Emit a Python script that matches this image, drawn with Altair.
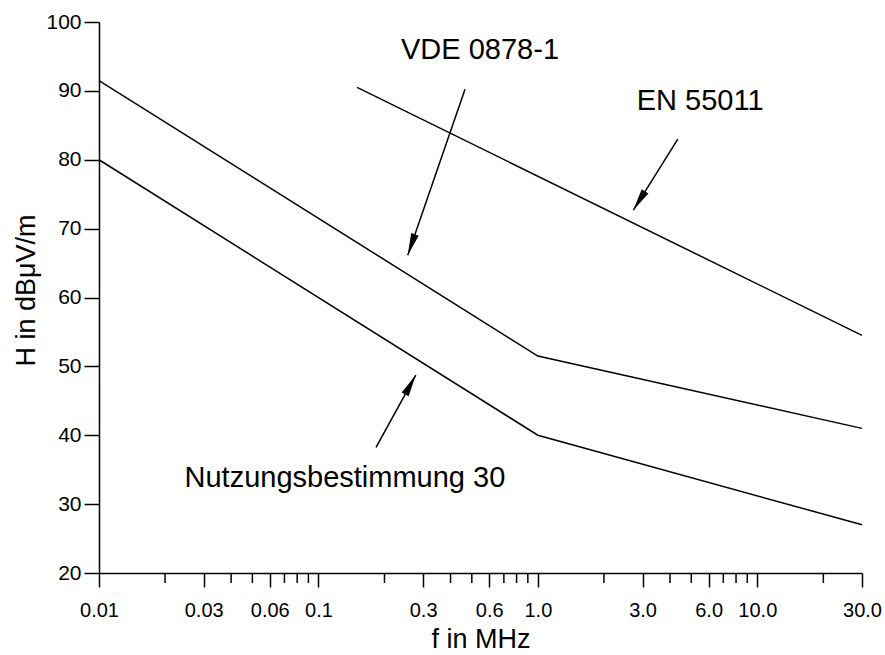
import altair as alt
import pandas as pd

# ---- data ----
nutz_f = [0.01, 1.0, 30.0]
nutz_H = [80.0, 40.0, 27.0]
vde_f = [0.01, 1.0, 30.0]
vde_H = [91.5, 51.5, 41.0]
en_f = [0.15, 30.0]
en_H = [90.5, 54.5]

major_ticks = [0.01, 0.03, 0.06, 0.1, 0.3, 0.6, 1.0, 3.0, 6.0, 10.0, 30.0]
major_labels = ["0.01", "0.03", "0.06", "0.1", "0.3", "0.6", "1.0", "3.0", "6.0", "10.0", "30.0"]
minor_ticks = [0.02, 0.04, 0.05, 0.07, 0.08, 0.09, 0.2, 0.4, 0.5, 0.7, 0.8, 0.9,
               2.0, 4.0, 5.0, 7.0, 8.0, 9.0, 20.0]
y_ticks = [20, 30, 40, 50, 60, 70, 80, 90, 100]

label_text = ["VDE 0878-1", "EN 55011", "Nutzungsbestimmung 30"]
label_f = [0.545, 5.49, 0.132]
label_H = [96.0, 88.6, 33.8]

arrow_f_start = [0.4656, 4.342, 0.183]
arrow_H_start = [90.25, 82.99, 38.24]
arrow_f_end = [0.2553, 2.725, 0.2777]
arrow_H_end = [66.15, 72.69, 48.74]
arrow_angle = [199.0, 212.0, 28.8]

FONT = "Liberation Sans"
W, H = 763, 551

# ---- tables ----
lines_df = pd.DataFrame({
    "f": nutz_f + vde_f + en_f,
    "H": nutz_H + vde_H + en_H,
    "series": ["Nutzungsbestimmung 30"] * len(nutz_f) + ["VDE 0878-1"] * len(vde_f) + ["EN 55011"] * len(en_f),
})
labels_df = pd.DataFrame({"f": label_f, "H": label_H, "text": label_text})
arrows_df = pd.DataFrame({"f": arrow_f_start, "H": arrow_H_start,
                          "f2": arrow_f_end, "H2": arrow_H_end})
heads_df = pd.DataFrame({"f": arrow_f_end, "H": arrow_H_end, "ang": arrow_angle})
minor_df = pd.DataFrame({"f": minor_ticks})

expr = "''"
for v, l in reversed(list(zip(major_ticks, major_labels))):
    expr = f"abs(datum.value - {v}) < {v}*1e-6 ? '{l}' : ({expr})"

x_scale = alt.Scale(type="log", domain=[0.01, 30], nice=False)
y_scale = alt.Scale(domain=[20, 100], nice=False, zero=False)

X = alt.X("f:Q", scale=x_scale,
          axis=alt.Axis(values=major_ticks, labelExpr=expr, tickSize=14, labelPadding=13,
                        title="f in MHz", titlePadding=6, grid=False, labelFlush=False,
                        labelOverlap=False, labelFontSize=20))
Y = alt.Y("H:Q", scale=y_scale,
          axis=alt.Axis(values=y_ticks, tickSize=15, labelPadding=3,
                        title="H in dBμV/m", titlePadding=5, titleY=268, grid=False,
                        labelFlush=False, labelFontSize=21))

lines = alt.Chart(lines_df).mark_line(color="black", strokeWidth=1.5).encode(
    x=X, y=Y, detail="series:N")

minor = alt.Chart(minor_df).mark_rule(color="black", strokeWidth=1.5).encode(
    x=X, y=alt.value(H), y2=alt.value(H + 10))

texts = alt.Chart(labels_df).mark_text(font=FONT, fontSize=29, color="black",
                                       align="center", baseline="middle").encode(
    x=X, y=Y, text="text:N")

shafts = alt.Chart(arrows_df).mark_rule(color="black", strokeWidth=1.5).encode(
    x=X, y=Y, x2="f2:Q", y2="H2:Q")

heads = alt.Chart(heads_df).mark_point(shape="M0,0L0.36,2L-0.36,2Z", filled=True, size=484,
                                       color="black", opacity=1, strokeWidth=0).encode(
    x=X, y=Y, angle=alt.Angle("ang:Q", scale=None))

chart = alt.layer(lines, minor, shafts, heads, texts).properties(
    width=W, height=H,
    autosize=alt.AutoSizeParams(type="none"),
    padding={"left": 99, "top": 22, "right": 23, "bottom": 82},
    background="white",
).configure_view(stroke=None).configure_axis(
    domainColor="black", domainWidth=1.5, tickColor="black", tickWidth=1.5,
    labelColor="black", titleColor="black", labelFont=FONT, titleFont=FONT,
    titleFontSize=27, titleFontWeight="normal",
)

chart.save("out.html", embed_options={"renderer": "svg", "actions": False})
